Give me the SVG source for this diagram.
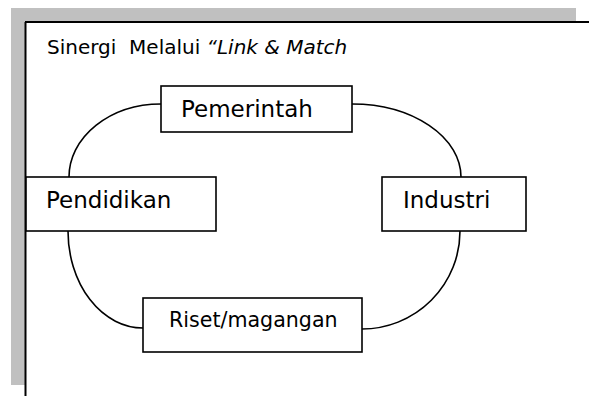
<svg xmlns="http://www.w3.org/2000/svg" width="589" height="396" viewBox="0 0 589 396">
  <style>
    .shadow { fill: #c0c0c0; }
    .frame { stroke: #000; stroke-width: 2; fill: none; }
    .box { fill: #fff; stroke: #000; stroke-width: 1.6; }
    .link { fill: none; stroke: #000; stroke-width: 1.6; }
    .lbl { font-family: "DejaVu Sans", Verdana, sans-serif; font-size: 23px; fill: #000; white-space: pre; }
    .title { font-size: 20px; }
    .small { font-size: 20.6px; }
  </style>
  <rect width="589" height="396" fill="#fff"/>
  <!-- page shadow -->
  <rect class="shadow" x="11" y="8" width="565" height="13"/>
  <rect class="shadow" x="11" y="8" width="14" height="377"/>
  <!-- frame edges -->
  <path class="frame" d="M25,22 H589 M25.5,22 V396"/>
  <text class="lbl title" x="47" y="54" xml:space="preserve">Sinergi  Melalui <tspan font-style="italic">“Link &amp; Match</tspan></text>

  <g id="connectors">
    <path class="link" d="M161,104 A92,73 0 0 0 69,177"/>
    <path class="link" d="M352,104 A109,73 0 0 1 461,177"/>
    <path class="link" d="M68,231 A75,97 0 0 0 143,328"/>
    <path class="link" d="M460,231 A98,98 0 0 1 362,329"/>
  </g>

  <g id="pemerintah">
    <rect class="box" x="161" y="86" width="191" height="46"/>
    <text class="lbl" x="181" y="117">Pemerintah</text>
  </g>
  <g id="pendidikan">
    <rect class="box" x="26" y="177" width="190" height="54"/>
    <text class="lbl" x="46" y="208">Pendidikan</text>
  </g>
  <g id="industri">
    <rect class="box" x="382" y="177" width="144" height="54"/>
    <text class="lbl" x="403" y="208">Industri</text>
  </g>
  <g id="riset">
    <rect class="box" x="143" y="298" width="219" height="54"/>
    <text class="lbl small" x="169" y="327">Riset/magangan</text>
  </g>
</svg>
